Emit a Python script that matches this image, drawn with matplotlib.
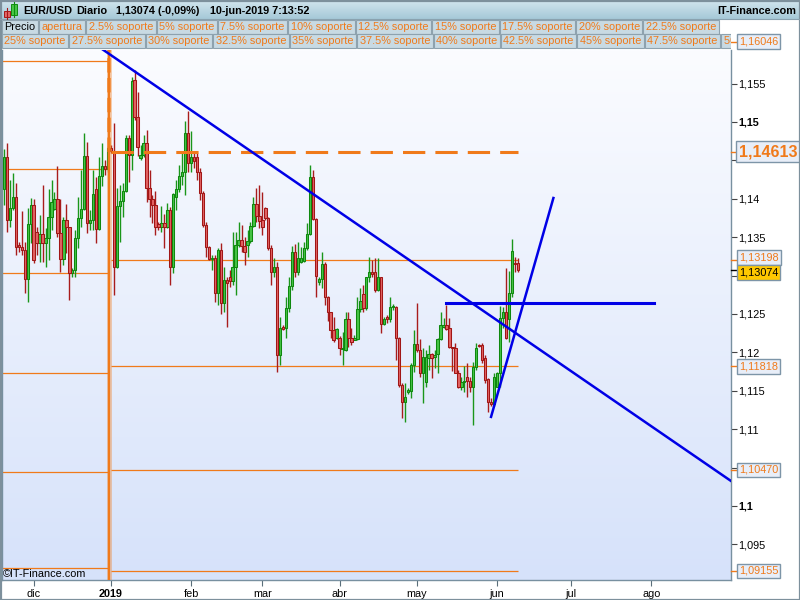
import matplotlib
matplotlib.use('Agg')
import matplotlib.pyplot as plt
import matplotlib.transforms as mtransforms
from matplotlib.colors import LinearSegmentedColormap
from matplotlib.patches import Rectangle
import numpy as np
import pandas as pd

plt.rcParams['font.family'] = ['Liberation Sans', 'DejaVu Sans']

# EUR/USD daily candles (Sunday..Friday sessions), 20-nov-2018 .. 10-jun-2019
opens = [
    # nov - dic 2018
    1.1413, 1.1455, 1.1372, 1.1388, 1.1402, 1.1340, 1.1337, 1.1333, 1.1296, 1.1367,
    1.1392, 1.1357, 1.1342, 1.1354, 1.1342, 1.1349, 1.1376, 1.1387, 1.1400, 1.1355,
    1.1322, 1.1372, 1.1363, 1.1303, 1.1307, 1.1349, 1.1375, 1.1387, 1.1456, 1.1368,
    1.1372, 1.1413, 1.1360, 1.1430, 1.1443, 1.1439,
    # ene - mar 2019
    1.1466, 1.1462,
    1.1311, 1.1391, 1.1397, 1.1410, 1.1479, 1.1457, 1.1555, 1.1506, 1.1453, 1.1457,
    1.1473, 1.1414, 1.1400, 1.1392, 1.1367, 1.1363, 1.1368, 1.1363, 1.1385, 1.1311,
    1.1402, 1.1413, 1.1430, 1.1435, 1.1486, 1.1447, 1.1455, 1.1455, 1.1435, 1.1408,
    1.1366, 1.1337, 1.1322, 1.1323, 1.1277, 1.1333, 1.1264, 1.1294, 1.1298, 1.1293,
    1.1311, 1.1340, 1.1346, 1.1339, 1.1340, 1.1345, 1.1364, 1.1393, 1.1378, 1.1372,
    1.1388,
    # mar - may
    1.1375, 1.1336, 1.1304, 1.1311, 1.1196, 1.1233, 1.1232, 1.1258, 1.1286, 1.1331,
    1.1304, 1.1318, 1.1319, 1.1336, 1.1354, 1.1428, 1.1374, 1.1291, 1.1295, 1.1315,
    1.1272, 1.1253, 1.1229, 1.1219, 1.1219, 1.1204, 1.1203, 1.1243, 1.1219, 1.1216,
    1.1218, 1.1257, 1.1276, 1.1258, 1.1298, 1.1304, 1.1304, 1.1281, 1.1298, 1.1237,
    1.1246, 1.1243, 1.1259,
    # abr - jun
    1.1259, 1.1219, 1.1157, 1.1135, 1.1149, 1.1150, 1.1184, 1.1211, 1.1203, 1.1173,
    1.1161, 1.1193, 1.1198, 1.1194, 1.1198, 1.1218, 1.1233, 1.1235, 1.1232, 1.1207,
    1.1206, 1.1173, 1.1155, 1.1161, 1.1168, 1.1163, 1.1155, 1.1181, 1.1210, 1.1210,
    1.1193, 1.1165, 1.1135, 1.1133, 1.1155, 1.1173, 1.1245, 1.1253, 1.1243, 1.1277,
    1.1316, 1.1316,
]
highs = [
    1.1465, 1.1473, 1.1425, 1.1434, 1.1421, 1.1344, 1.1384, 1.1344, 1.1388, 1.1401,
    1.1400, 1.1363, 1.1379, 1.1418, 1.1362, 1.1413, 1.1424, 1.1409, 1.1443, 1.1400,
    1.1376, 1.1393, 1.1363, 1.1310, 1.1359, 1.1402, 1.1438, 1.1486, 1.1474, 1.1385,
    1.1438, 1.1428, 1.1455, 1.1473, 1.1451, 1.1469,
    1.1470, 1.1498,
    1.1414, 1.1418, 1.1421, 1.1483, 1.1483, 1.1559, 1.1568, 1.1539, 1.1470, 1.1483,
    1.1490, 1.1438, 1.1405, 1.1410, 1.1370, 1.1391, 1.1380, 1.1394, 1.1389, 1.1408,
    1.1425, 1.1444, 1.1460, 1.1501, 1.1514, 1.1488, 1.1462, 1.1460, 1.1440, 1.1410,
    1.1370, 1.1338, 1.1327, 1.1327, 1.1336, 1.1342, 1.1311, 1.1298, 1.1307, 1.1357,
    1.1357, 1.1370, 1.1366, 1.1350, 1.1359, 1.1370, 1.1402, 1.1414, 1.1418, 1.1409,
    1.1389,
    1.1376, 1.1340, 1.1323, 1.1318, 1.1246, 1.1236, 1.1272, 1.1298, 1.1339, 1.1341,
    1.1344, 1.1337, 1.1344, 1.1368, 1.1444, 1.1438, 1.1375, 1.1298, 1.1331, 1.1318,
    1.1273, 1.1253, 1.1246, 1.1232, 1.1221, 1.1227, 1.1253, 1.1253, 1.1232, 1.1223,
    1.1272, 1.1284, 1.1288, 1.1298, 1.1324, 1.1320, 1.1323, 1.1323, 1.1298, 1.1246,
    1.1249, 1.1272, 1.1263,
    1.1261, 1.1220, 1.1160, 1.1160, 1.1153, 1.1186, 1.1229, 1.1264, 1.1218, 1.1206,
    1.1203, 1.1210, 1.1199, 1.1203, 1.1219, 1.1252, 1.1245, 1.1262, 1.1245, 1.1207,
    1.1212, 1.1177, 1.1168, 1.1182, 1.1186, 1.1168, 1.1187, 1.1212, 1.1211, 1.1212,
    1.1197, 1.1166, 1.1140, 1.1173, 1.1174, 1.1261, 1.1259, 1.1310, 1.1306, 1.1348,
    1.1324, 1.1323,
]
lows = [
    1.1392, 1.1357, 1.1363, 1.1385, 1.1327, 1.1331, 1.1327, 1.1277, 1.1266, 1.1342,
    1.1316, 1.1327, 1.1318, 1.1318, 1.1311, 1.1320, 1.1359, 1.1385, 1.1350, 1.1305,
    1.1314, 1.1329, 1.1268, 1.1298, 1.1298, 1.1336, 1.1363, 1.1385, 1.1355, 1.1359,
    1.1359, 1.1342, 1.1359, 1.1416, 1.1431, 1.1435,
    1.1460, 1.1275,
    1.1310, 1.1344, 1.1376, 1.1409, 1.1422, 1.1438, 1.1503, 1.1456, 1.1451, 1.1455,
    1.1396, 1.1376, 1.1368, 1.1353, 1.1359, 1.1357, 1.1336, 1.1362, 1.1288, 1.1303,
    1.1385, 1.1409, 1.1418, 1.1405, 1.1435, 1.1435, 1.1440, 1.1425, 1.1398, 1.1363,
    1.1324, 1.1320, 1.1307, 1.1266, 1.1262, 1.1250, 1.1253, 1.1233, 1.1285, 1.1288,
    1.1275, 1.1337, 1.1331, 1.1314, 1.1324, 1.1342, 1.1363, 1.1370, 1.1362, 1.1353,
    1.1372,
    1.1333, 1.1288, 1.1298, 1.1174, 1.1184, 1.1229, 1.1219, 1.1253, 1.1281, 1.1298,
    1.1301, 1.1316, 1.1318, 1.1333, 1.1353, 1.1372, 1.1272, 1.1288, 1.1284, 1.1262,
    1.1241, 1.1219, 1.1213, 1.1218, 1.1196, 1.1184, 1.1202, 1.1207, 1.1210, 1.1216,
    1.1216, 1.1253, 1.1253, 1.1255, 1.1291, 1.1298, 1.1279, 1.1280, 1.1225, 1.1236,
    1.1238, 1.1240, 1.1255,
    1.1190, 1.1155, 1.1115, 1.1109, 1.1146, 1.1141, 1.1174, 1.1201, 1.1168, 1.1134,
    1.1155, 1.1177, 1.1167, 1.1180, 1.1173, 1.1216, 1.1232, 1.1229, 1.1206, 1.1176,
    1.1173, 1.1154, 1.1151, 1.1149, 1.1142, 1.1148, 1.1105, 1.1177, 1.1207, 1.1186,
    1.1160, 1.1122, 1.1130, 1.1130, 1.1155, 1.1155, 1.1232, 1.1217, 1.1213, 1.1272,
    1.1304, 1.1304,
]
closes = [
    1.1455, 1.1372, 1.1388, 1.1402, 1.1337, 1.1337, 1.1333, 1.1296, 1.1367, 1.1392,
    1.1320, 1.1342, 1.1354, 1.1342, 1.1349, 1.1376, 1.1396, 1.1400, 1.1355, 1.1322,
    1.1372, 1.1363, 1.1303, 1.1307, 1.1349, 1.1375, 1.1387, 1.1456, 1.1368, 1.1372,
    1.1406, 1.1360, 1.1430, 1.1443, 1.1439, 1.1466,
    1.1462, 1.1311,
    1.1391, 1.1397, 1.1410, 1.1479, 1.1457, 1.1553, 1.1506, 1.1467, 1.1457, 1.1473,
    1.1414, 1.1400, 1.1392, 1.1363, 1.1363, 1.1368, 1.1363, 1.1385, 1.1311, 1.1406,
    1.1413, 1.1430, 1.1435, 1.1486, 1.1447, 1.1455, 1.1449, 1.1435, 1.1408, 1.1366,
    1.1337, 1.1322, 1.1323, 1.1277, 1.1333, 1.1264, 1.1294, 1.1290, 1.1293, 1.1311,
    1.1340, 1.1346, 1.1339, 1.1331, 1.1345, 1.1364, 1.1393, 1.1378, 1.1371, 1.1363,
    1.1375,
    1.1336, 1.1304, 1.1311, 1.1196, 1.1232, 1.1231, 1.1258, 1.1286, 1.1331, 1.1304,
    1.1323, 1.1323, 1.1336, 1.1354, 1.1428, 1.1374, 1.1299, 1.1295, 1.1315, 1.1272,
    1.1252, 1.1229, 1.1216, 1.1231, 1.1206, 1.1206, 1.1243, 1.1219, 1.1213, 1.1219,
    1.1257, 1.1267, 1.1258, 1.1298, 1.1304, 1.1302, 1.1281, 1.1298, 1.1237, 1.1244,
    1.1243, 1.1259, 1.1261,
    1.1219, 1.1157, 1.1135, 1.1142, 1.1151, 1.1184, 1.1211, 1.1203, 1.1173, 1.1194,
    1.1194, 1.1198, 1.1193, 1.1197, 1.1218, 1.1235, 1.1236, 1.1231, 1.1207, 1.1206,
    1.1173, 1.1155, 1.1161, 1.1163, 1.1163, 1.1155, 1.1181, 1.1206, 1.1208, 1.1190,
    1.1164, 1.1135, 1.1133, 1.1168, 1.1173, 1.1245, 1.1253, 1.1219, 1.1277, 1.1332,
    1.1315, 1.1307,
]

# support levels of 2018 and 2019, year open, last quote
levels_2018 = [1.1579, 1.1439, 1.1303, 1.1173, 1.1044, 1.0919]
levels_2019 = [1.16046, 1.13198, 1.11818, 1.10470, 1.09155]
open_2019 = 1.14613
last_price = 1.13074

# hand drawn lines: (dates, prices)
trend_down = (['2018-12-28', '2019-09-02'], [1.1595, 1.1032])
trend_up = (['2019-05-30', '2019-06-24'], [1.1116, 1.1401])
resistance = (['2019-05-13', '2019-08-02'], [1.1264, 1.1264])

month_names = ['dic', '2019', 'feb', 'mar', 'abr', 'may', 'jun', 'jul', 'ago']
yticks = [1.095, 1.10, 1.105, 1.11, 1.115, 1.12, 1.125, 1.13, 1.135, 1.14, 1.145, 1.15, 1.155]
hidden_ticks = [1.105, 1.13, 1.145]  # sit behind the price boxes

row1_labels = ['Precio', 'apertura', '2.5% soporte', '5% soporte', '7.5% soporte', '10% soporte',
               '12.5% soporte', '15% soporte', '17.5% soporte', '20% soporte', '22.5% soporte']
row2_labels = ['25% soporte', '27.5% soporte', '30% soporte', '32.5% soporte', '35% soporte',
               '37.5% soporte', '40% soporte', '42.5% soporte', '45% soporte', '47.5% soporte',
               '50% soporte']

ORANGE = '#f07a1a'
BLUE = '#0000e6'

# trading calendar without saturdays (x axis is one slot per session)
cal = pd.date_range('2018-11-20', '2019-09-30')
cal = cal[cal.dayofweek != 5]


def pos(d):
    return int(cal.get_loc(pd.Timestamp(d)))


fig = plt.figure(figsize=(8, 6), dpi=100)
fig.patch.set_facecolor('white')

# plot area in pixels: x 2..731, y 50..580
ax = fig.add_axes([2 / 800, 1 - 580 / 600, 729 / 800, 530 / 600])

bg = LinearSegmentedColormap.from_list('bg', ['#d6e2fa', '#fbfcff'])
ax.imshow(np.linspace(0, 1, 256).reshape(-1, 1), extent=[0, 1, 0, 1], transform=ax.transAxes,
          cmap=bg, aspect='auto', origin='lower', zorder=0)

o = np.array(opens)
h = np.array(highs)
l = np.array(lows)
c = np.array(closes)
x = np.arange(len(o))
up = c >= o
body = np.maximum(np.abs(c - o), 0.00006)
bottom = np.minimum(o, c)

ax.vlines(x[up], l[up], h[up], color='#1a961a', lw=1.0, zorder=3)
ax.vlines(x[~up], l[~up], h[~up], color='#a81c1c', lw=1.0, zorder=3)
ax.bar(x[up], body[up], bottom=bottom[up], width=0.8, color='#46c446',
       edgecolor='#0e880e', linewidth=0.75, zorder=4)
ax.bar(x[~up], body[~up], bottom=bottom[~up], width=0.8, color='#e26262',
       edgecolor='#a01616', linewidth=0.75, zorder=4)

# support levels
jan1 = pos('2019-01-01')
last = len(o) - 1
ax.hlines(levels_2018, -1, jan1 - 0.9, color=ORANGE, lw=0.9, zorder=2)
ax.hlines(levels_2019, jan1 + 0.2, last + 0.2, color=ORANGE, lw=0.9, zorder=2)
ax.hlines(open_2019, jan1 + 0.2, last + 0.2, color=ORANGE, lw=2.2,
          linestyles=(0, (7.3, 3.3)), zorder=5)

# year separator
ax.axvline(jan1 - 0.5, color=ORANGE, lw=3.6, alpha=0.35, zorder=5)
ax.axvline(jan1 - 0.5, color=ORANGE, lw=1.6, zorder=5)
ax.vlines(jan1 - 0.5, open_2019, 1.16, color=ORANGE, lw=2.6,
          linestyles=(0, (4, 1.5)), alpha=0.8, zorder=5)

# blue drawing lines
ax.plot([pos(d) for d in trend_down[0]], trend_down[1], color=BLUE, lw=1.8, zorder=6)
ax.plot([pos(d) for d in trend_up[0]], trend_up[1], color=BLUE, lw=1.8, zorder=6)
ax.plot([pos(d) for d in resistance[0]], resistance[1], color=BLUE, lw=2.2, zorder=6)

ax.set_xlim(-0.67, 244.8)
ax.set_ylim(1.09036, 1.15937)

# price axis on the right
ax.yaxis.tick_right()
ax.set_yticks(yticks)
ax.set_yticklabels(['' if v in hidden_ticks else f'{v:.3f}'.rstrip('0').replace('.', ',')
                    for v in yticks])
for lab, v in zip(ax.get_yticklabels(), yticks):
    if round(v, 3) in (1.10, 1.15):
        lab.set_fontweight('bold')
ax.tick_params(axis='y', direction='out', length=4, width=0.8, color='#444444',
               labelsize=7.8, pad=1.5)

# months on the bottom
month_starts = pd.date_range('2018-12-01', '2019-08-01', freq='MS')
tick_pos = [int(np.searchsorted(cal, m)) for m in month_starts]
ax.set_xticks(tick_pos)
ax.set_xticklabels(month_names)
for lab in ax.get_xticklabels():
    if lab.get_text() == '2019':
        lab.set_fontweight('bold')
        lab.set_fontsize(9)
ax.tick_params(axis='x', direction='out', length=4, width=0.8, color='#5a6e7a',
               labelsize=7.8, pad=2.5)

ax.spines['top'].set_visible(False)
for s in ['left', 'right', 'bottom']:
    ax.spines[s].set_color('#7890a0')
    ax.spines[s].set_linewidth(1.0)

# price boxes next to the axis
box_tf = mtransforms.blended_transform_factory(ax.transAxes, ax.transData)


def price_box(value, dy_px, tcolor, fc, size=7.8, weight='normal', tick=ORANGE):
    ax.plot([1.0, 1.007], [value, value], transform=box_tf, color=tick, lw=1.0,
            clip_on=False, zorder=7)
    ax.annotate(f'{value:.5f}'.replace('.', ','), xy=(1.0, value), xycoords=box_tf,
                xytext=(5.6, dy_px * 0.72), textcoords='offset points',
                ha='left', va='center', fontsize=size, fontweight=weight, color=tcolor,
                annotation_clip=False, zorder=8,
                bbox=dict(boxstyle='square,pad=0.2', fc=fc, ec='#7d95a8', lw=1.0))


price_box(levels_2019[0], 0, ORANGE, '#e8eef8')
price_box(open_2019, 0, ORANGE, '#e8eef8', size=11.5, weight='bold')
price_box(levels_2019[1], 3, ORANGE, '#e8eef8')
price_box(last_price, -2.5, 'black', '#ffc800', tick='black')
price_box(levels_2019[2], 0, ORANGE, '#e8eef8')
price_box(levels_2019[3], 0, ORANGE, '#e8eef8')
price_box(levels_2019[4], 0, ORANGE, '#e8eef8')

# header and frame, drawn in pixel units
hdr = fig.add_axes([0, 0, 1, 1], zorder=10)
hdr.axis('off')
hdr.imshow(np.linspace(0, 1, 32).reshape(-1, 1), extent=[0, 800, 19, 0], aspect='auto',
           cmap=LinearSegmentedColormap.from_list('hd', ['#d2e5ee', '#a6c9d8']), origin='upper')
hdr.set_xlim(0, 800)
hdr.set_ylim(600, 0)
hdr.plot([0, 800], [19, 19], color='#8aa2b0', lw=0.8)

# icon
hdr.plot([7, 7], [8, 19], color='#a41818', lw=0.8)
hdr.add_patch(Rectangle((4, 10.5), 5.5, 6, fc='#e46666', ec='#a41818', lw=0.7))
hdr.plot([14, 14], [1.5, 17], color='#108c10', lw=0.8)
hdr.add_patch(Rectangle((11, 3.5), 5.5, 11, fc='#48c848', ec='#108c10', lw=0.7))

for tx, s in [(23, 'EUR/USD'), (76, 'Diario'), (116, '1,13074 (-0,09%)'),
              (210, '10-jun-2019 7:13:52')]:
    hdr.text(tx, 10.5, s, fontsize=7.8, fontweight='bold', color='black', va='center', ha='left')
hdr.text(796, 10.5, 'IT-Finance.com', fontsize=7.8, fontweight='bold', color='black',
         va='center', ha='right')

renderer = fig.canvas.get_renderer()
clip = mtransforms.TransformedBbox(mtransforms.Bbox([[0, 0], [731, 600]]), hdr.transData)


def cell_row(labels, y0, y1, colors):
    xc = 2
    for lab, col in zip(labels, colors):
        t = hdr.text(xc + 2.5, (y0 + y1) / 2 + 0.5, lab, fontsize=7.8, color=col,
                     va='center', ha='left', zorder=3)
        w = t.get_window_extent(renderer).width
        r = Rectangle((xc, y0), w + 5, y1 - y0, fc='#c8dae3', ec='#8ea2ae', lw=0.8, zorder=2)
        hdr.add_patch(r)
        for a in (t, r):
            a.set_clip_on(True)
            a.set_clip_box(clip)
        xc += w + 6


cell_row(row1_labels, 19.5, 33.5, ['black'] + [ORANGE] * (len(row1_labels) - 1))
cell_row(row2_labels, 33.5, 47.5, [ORANGE] * len(row2_labels))

hdr.text(3, 574, '\u00a9IT-Finance.com', fontsize=7.8, color='black', va='center', ha='left')
hdr.add_patch(Rectangle((0.5, 0.5), 799, 599, fc='none', ec='#7d909c', lw=1.6))

fig.savefig('out.png', dpi=100)
